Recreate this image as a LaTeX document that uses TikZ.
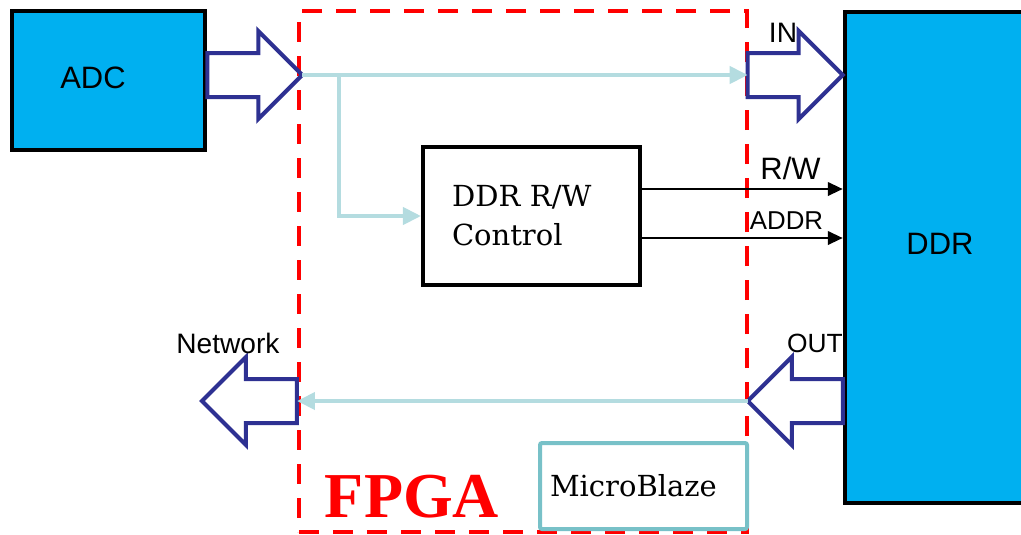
\documentclass[tikz,border=0pt]{standalone}
\usepackage{fontspec}
\setmainfont{Liberation Sans}
\newfontfamily\slabfont{DejaVu Serif}
\newfontfamily\titlefont{Liberation Serif}
\usetikzlibrary{arrows.meta,positioning,calc,shapes.arrows}
\definecolor{cCyan}{HTML}{00B0F0}
\definecolor{cNavy}{HTML}{2E3192}
\definecolor{cPale}{HTML}{B4DCE0}
\definecolor{cTeal}{HTML}{78C1C8}
\definecolor{cRed}{HTML}{FF0000}
\tikzset{
  chipbox/.style={draw=black,line width=0.9mm,fill=cCyan,inner sep=0pt},
  ctrlbox/.style={draw=black,line width=0.8mm,fill=white,inner sep=0pt,
              align=left,font=\slabfont\fontsize{16.5}{22.2}\selectfont},
  mbbox/.style={draw=cTeal,line width=0.8mm,fill=white,rounded corners=0.4mm,
              inner sep=0pt,align=left,font=\slabfont\fontsize{16.5}{20}\selectfont},
  fpgaframe/.style={draw=cRed,line width=0.8mm,dash pattern=on 4mm off 2.8mm},
  fatarrow/.style={single arrow,draw=cNavy,line width=0.8mm,inner xsep=0pt,outer sep=0pt,
              inner ysep=4mm,single arrow head extend=4.4mm,minimum height=19mm},
  bus/.style={-{Triangle[length=3.6mm,width=3.4mm]},line width=0.8mm,cPale},
  sig/.style={-{Triangle[length=3mm,width=2.7mm]},line width=0.5mm,black},
  lbl/.style={inner sep=0pt},
}
\begin{document}
\begin{tikzpicture}[x=0.2mm,y=-0.2mm]
  \clip (0,0) rectangle (1021,534);
  % FPGA frame and blocks
  \node[fpgaframe,minimum width=89.6mm,minimum height=104.2mm] (fpga) at (523,271.5){};
  \node[chipbox,minimum width=38.6mm,minimum height=27.8mm] (adc) at (108.5,80.5){};
  \node[lbl,font=\fontsize{17.6}{20}\selectfont] (adctxt) at (93,78){ADC};
  \node[chipbox,minimum width=60mm,minimum height=98.2mm] (ddr) at (995,257.5){};
  \node[lbl,font=\fontsize{17.6}{20}\selectfont] (ddrtxt) at (940,244){DDR};
  \node[ctrlbox,minimum width=43.4mm,minimum height=27.6mm,text width=31.8mm]
    (ctrl) at (531.5,216){DDR R/W\\Control};
  \node[mbbox,minimum width=41.4mm,minimum height=17.2mm,text width=37.4mm]
    (mb) at (643.5,486){MicroBlaze};
  \node[lbl,text=cRed,font=\titlefont\bfseries\fontsize{36.4}{40}\selectfont]
    (fpgatxt) at (412,497){FPGA};
  % hollow ports
  \node[fatarrow,anchor=tail] (adcout) at ([yshift=1.1mm]adc.east){};
  \node[fatarrow,anchor=tip] (ddrin) at (ddr.west |- adcout.tip){};
  \node[fatarrow,shape border rotate=180,anchor=tail] (ddrout) at ([yshift=-28.7mm]ddr.west){};
  \node[fatarrow,shape border rotate=180,anchor=tail] (netout) at (fpga.west |- ddrout.tip){};
  \node[lbl,font=\fontsize{16}{18}\selectfont] (intxt) at (783,33){IN};
  \node[lbl,font=\fontsize{15}{18}\selectfont] (outtxt) at (815,343){OUT};
  \node[lbl,font=\fontsize{16}{18}\selectfont] (nettxt) at (228,343){Network};
  % data paths
  \draw[bus] (adcout.tip) -- (ddrin.tail);
  \draw[bus] ([xshift=7.4mm]adcout.tip) |- (ctrl.west);
  \draw[bus] (ddrout.tip) -- (netout.tail);
  % control signals
  \draw[sig] ([yshift=5.4mm]ctrl.east) -- ([yshift=5.4mm]ctrl.east -| ddr.west)
    node[lbl,pos=.74,above=1.6mm,font=\fontsize{17.6}{20}\selectfont]{R/W};
  \draw[sig] ([yshift=-4.4mm]ctrl.east) -- ([yshift=-4.4mm]ctrl.east -| ddr.west)
    node[lbl,pos=.72,above=1.5mm,font=\fontsize{14.7}{18}\selectfont]{ADDR};
\end{tikzpicture}
\end{document}
